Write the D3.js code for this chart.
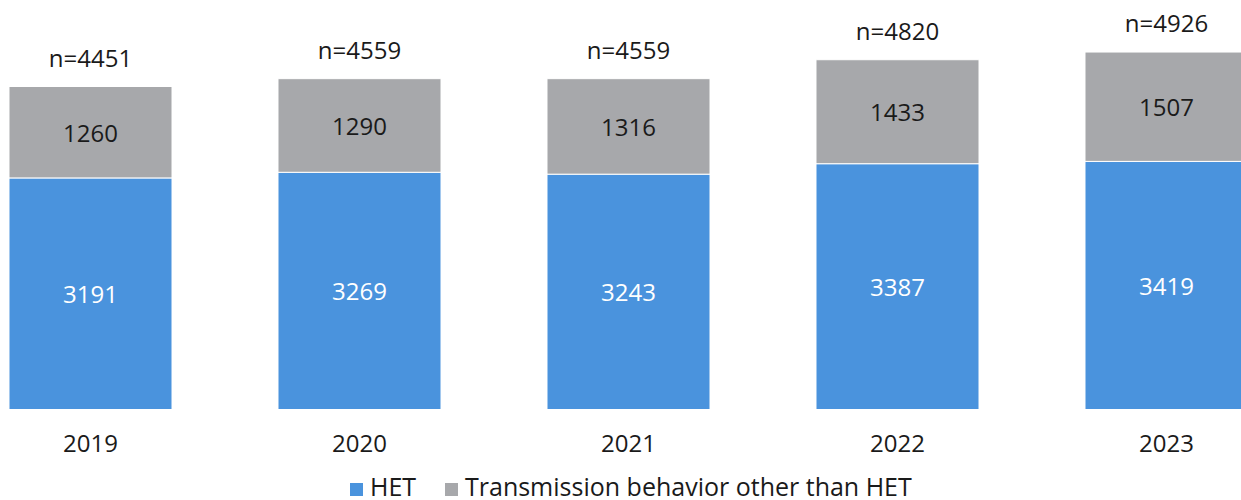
<!DOCTYPE html>
<html>
<head>
<meta charset="utf-8">
<script src="https://cdn.jsdelivr.net/npm/d3@7"></script>
<style>
  body { margin: 0; background: #fff; }
  text { font-family: "Open Sans", "Noto Sans", sans-serif; }
</style>
</head>
<body>
<div id="chart"></div>
<script>
// data
var years = ["2019", "2020", "2021", "2022", "2023"];
var het = [3191, 3269, 3243, 3387, 3419];
var other = [1260, 1290, 1316, 1433, 1507];
var totals = [4451, 4559, 4559, 4820, 4926];
var seriesNames = ["HET", "Transmission behavior other than HET"];
var seriesColors = ["#4a93dd", "#a7a8ab"];

var width = 1241, height = 500;
var fontSize = 24;

var svg = d3.select("#chart").append("svg")
    .attr("width", width)
    .attr("height", height);

// scales
var xScale = d3.scaleBand()
    .domain(years)
    .range([-44, 1301])
    .paddingInner(0.394)
    .paddingOuter(0.197);

var yScale = d3.scaleLinear()
    .domain([0, 5643])
    .range([409.5, 0]);

var rows = years.map(function(y, i) {
  return {year: y, het: het[i], other: other[i], total: totals[i]};
});

var stack = d3.stack().keys(["het", "other"]);
var layers = stack(rows);

// bars
var layer = svg.selectAll("g.layer")
    .data(layers)
    .enter().append("g")
    .attr("class", "layer")
    .attr("fill", function(d, i) { return seriesColors[i]; });

layer.selectAll("rect")
    .data(function(d) { return d; })
    .enter().append("rect")
    .attr("x", function(d) { return xScale(d.data.year); })
    .attr("y", function(d) { return yScale(d[1]); })
    .attr("width", xScale.bandwidth())
    .attr("height", function(d) { return yScale(d[0]) - yScale(d[1]); })
    .attr("stroke", "#fff")
    .attr("stroke-width", 1);

// value labels inside segments
layer.selectAll("text")
    .data(function(d) { return d; })
    .enter().append("text")
    .attr("x", function(d) { return xScale(d.data.year) + xScale.bandwidth() / 2; })
    .attr("y", function(d) { return (yScale(d[0]) + yScale(d[1])) / 2; })
    .attr("text-anchor", "middle")
    .attr("dominant-baseline", "central")
    .attr("font-size", fontSize)
    .attr("fill", function() {
      return this.parentNode.__data__.key == "het" ? "#fff" : "#1a1a1a";
    })
    .text(function(d) { return d[1] - d[0]; });

// n= labels
svg.selectAll("text.total")
    .data(rows)
    .enter().append("text")
    .attr("class", "total")
    .attr("x", function(d) { return xScale(d.year) + xScale.bandwidth() / 2; })
    .attr("y", function(d) { return yScale(d.total) - 20; })
    .attr("text-anchor", "middle")
    .attr("font-size", fontSize)
    .attr("fill", "#1a1a1a")
    .text(function(d) { return "n=" + d.total; });

// x axis labels
var xAxis = d3.axisBottom(xScale).tickSize(0).tickPadding(0);
var axisG = svg.append("g")
    .attr("transform", "translate(0,409.5)")
    .call(xAxis);
axisG.select(".domain").remove();
axisG.selectAll("text")
    .attr("y", 42)
    .attr("dy", 0)
    .attr("font-size", fontSize)
    .attr("font-family", "'Open Sans', 'Noto Sans', sans-serif")
    .attr("fill", "#1a1a1a");

// legend
var legendX = [350, 445];
var legend = svg.selectAll("g.legend")
    .data(seriesNames)
    .enter().append("g")
    .attr("class", "legend")
    .attr("transform", function(d, i) { return "translate(" + legendX[i] + ",483)"; });

legend.append("rect")
    .attr("width", 13)
    .attr("height", 13)
    .attr("fill", function(d, i) { return seriesColors[i]; });

legend.append("text")
    .attr("x", 20)
    .attr("y", 13)
    .attr("font-size", 25)
    .attr("fill", "#1a1a1a")
    .text(function(d) { return d; });
</script>
</body>
</html>
